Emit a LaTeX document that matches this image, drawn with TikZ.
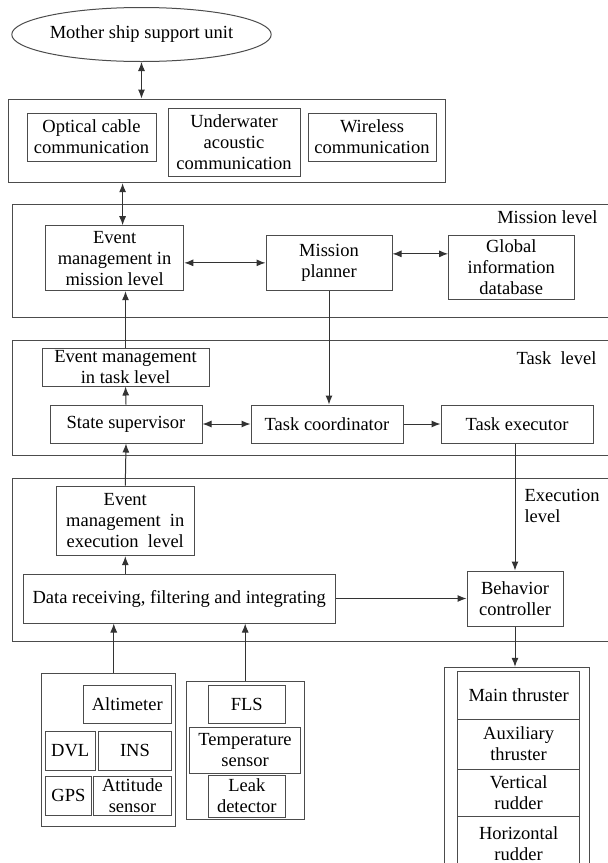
\documentclass[tikz,border=0pt]{standalone}
\usepackage{fontspec}
\setmainfont{Liberation Serif}
\usetikzlibrary{arrows.meta,shapes.geometric}
\tikzset{
  box/.style={draw=black!70, line width=1pt, inner sep=0pt, align=center},
  lvl/.style={draw=black!70, line width=1pt, inner sep=0pt},
  arr/.style={draw=black!80, line width=1pt, -{Latex[length=9pt,width=7pt]}},
  darr/.style={draw=black!80, line width=1pt, {Latex[length=9pt,width=7pt]}-{Latex[length=9pt,width=7pt]}},
  ln/.style={draw=black!80, line width=1pt}
}
\newcommand{\bx}[6]{\node[box, minimum width=#4, minimum height=#5] (#1) at (#2,#3) {#6};}
\begin{document}
\begin{tikzpicture}[x=1pt, y=-1pt, font=\fontsize{18.5}{21}\selectfont]
\useasboundingbox (0,0) rectangle (608,863);
\fill[white] (0,0) rectangle (608,863);

\node[lvl, minimum width=597.6, minimum height=113.7] (lvlM) at (311.2,260.85) {};
\node[lvl, minimum width=597.6, minimum height=114.3] (lvlT) at (311.2,397.85) {};
\node[lvl, minimum width=597.6, minimum height=163.7] (lvlE) at (311.2,559.85) {};
\node[anchor=east] (lblM) at (601,217) {Mission level};
\node[anchor=east] (lblT) at (600,358) {Task\ \ level};
\node[anchor=west, align=left] (lblE) at (521,506) {Execution\\level};

\node[draw=black!70, line width=1pt, ellipse, inner sep=0pt, minimum width=237, minimum height=54] (ship) at (141.5,34.5) {Mother ship support unit};

\bx{comm}{226.75}{140.85}{436.5}{83.7}{}
\bx{opt}{91.5}{137}{129}{48}{Optical cable\\communication}
\bx{uw}{234}{142}{132}{68}{Underwater\\acoustic\\communication}
\bx{wl}{372}{137}{128}{48}{Wireless\\communication}

\bx{evm}{114.6}{258.2}{138.4}{65}{Event\\management in\\mission level}
\bx{mp}{329}{262.85}{126}{55.7}{Mission\\planner}
\bx{gid}{511.3}{267}{125.4}{64}{Global\\information\\database}

\bx{evt}{125.5}{367}{167}{38}{Event management\\in task level}
\bx{ss}{126}{424}{152}{38}{State supervisor}
\bx{tc}{327}{424}{152}{38}{Task coordinator}
\bx{te}{517}{424}{152}{38}{Task executor}

\bx{evx}{125.3}{520.85}{138.6}{69.7}{Event\\management\ \ in\\execution\ \ level}
\bx{data}{179.2}{598.5}{312.4}{49}{Data receiving, filtering and integrating}
\bx{bc}{515}{598.5}{96}{55}{Behavior\\controller}

\bx{sensA}{108.25}{750}{133.5}{153.4}{}
\bx{alt}{127.2}{704.15}{87.6}{38.3}{Altimeter}
\bx{dvl}{70.2}{750.85}{49.6}{38.3}{DVL}
\bx{ins}{134.95}{750.85}{72.1}{38.3}{INS}
\bx{gps}{68.45}{795.85}{46.1}{38.3}{GPS}
\bx{att}{132.4}{795.85}{77.2}{38.3}{Attitude\\sensor}

\bx{sensB}{245.2}{750.5}{118.4}{137.6}{}
\bx{fls}{246.8}{704}{76.4}{38}{FLS}
\bx{tmp}{245.05}{750}{110.9}{46}{Temperature\\sensor}
\bx{leak}{246.8}{796}{76.4}{42}{Leak\\detector}

\bx{thr}{516.7}{768.65}{145.4}{202.7}{}
\bx{mth}{518.6}{695.5}{122.2}{47.6}{Main thruster}
\bx{aux}{518.6}{744.15}{122.2}{49.7}{Auxiliary\\thruster}
\bx{vrt}{518.6}{792.85}{122.2}{47.7}{Vertical\\rudder}
\bx{hor}{518.6}{843.35}{122.2}{53.3}{Horizontal\\rudder}

\draw[darr] (ship.south) -- (ship.south |- comm.north);
\draw[darr] ([xshift=8pt]evm.north |- comm.south) -- ([xshift=8pt]evm.north);
\draw[darr] (evm.east |- mp.west) -- (mp.west);
\draw[darr] ([yshift=9pt]mp.east) -- ([yshift=9pt]mp.east -| gid.west);
\draw[arr] (evt.north) -- (evt.north |- evm.south);
\draw[arr] (mp.south) -- (mp.south |- tc.north);
\draw[arr] (ss.north) -- (evt.south);
\draw[darr] (ss.east) -- (tc.west);
\draw[arr] (tc.east) -- (te.west);
\draw[arr] (evx.north) -- (ss.south);
\draw[arr] (evx.south |- data.north) -- (evx.south);
\draw[arr] (bc.north |- te.south) -- (bc.north);
\draw[arr] (data.east) -- (bc.west);
\draw[arr] (bc.south) -- (bc.south |- thr.north);
\draw[arr] ([xshift=5.5pt]sensA.north) -- ([xshift=5.5pt]sensA.north |- data.south);
\draw[arr] (sensB.north) -- (sensB.north |- data.south);
\end{tikzpicture}
\end{document}
